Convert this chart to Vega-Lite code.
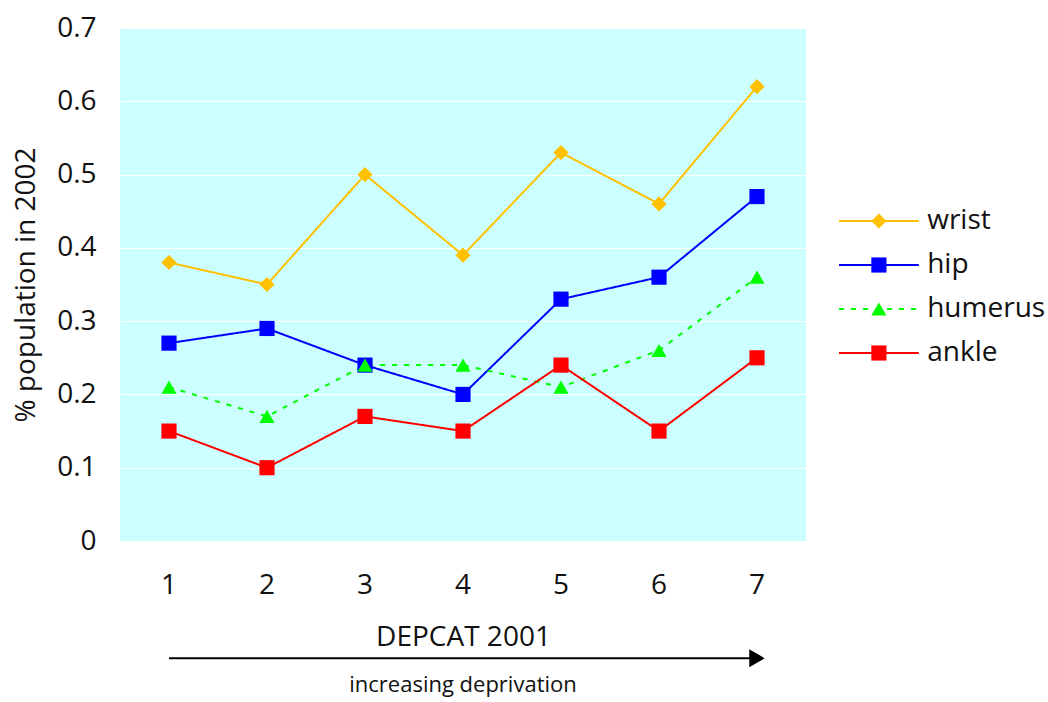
{
  "$schema": "https://vega.github.io/schema/vega-lite/v6.json",
  "background": "white",
  "padding": {"left": 12, "top": 14, "right": 0, "bottom": 2},
  "spacing": 32,
  "config": {
    "font": "Open Sans",
    "view": {"stroke": null},
    "axis": {"labelFont": "Open Sans", "titleFont": "Open Sans", "labelColor": "#111", "titleColor": "#111", "titleFontWeight": "normal"}
  },
  "datasets": {
    "fractures": [
      {"dep": 1, "series": "wrist", "value": 0.38},
      {"dep": 2, "series": "wrist", "value": 0.35},
      {"dep": 3, "series": "wrist", "value": 0.50},
      {"dep": 4, "series": "wrist", "value": 0.39},
      {"dep": 5, "series": "wrist", "value": 0.53},
      {"dep": 6, "series": "wrist", "value": 0.46},
      {"dep": 7, "series": "wrist", "value": 0.62},
      {"dep": 1, "series": "hip", "value": 0.27},
      {"dep": 2, "series": "hip", "value": 0.29},
      {"dep": 3, "series": "hip", "value": 0.24},
      {"dep": 4, "series": "hip", "value": 0.20},
      {"dep": 5, "series": "hip", "value": 0.33},
      {"dep": 6, "series": "hip", "value": 0.36},
      {"dep": 7, "series": "hip", "value": 0.47},
      {"dep": 1, "series": "humerus", "value": 0.21},
      {"dep": 2, "series": "humerus", "value": 0.17},
      {"dep": 3, "series": "humerus", "value": 0.24},
      {"dep": 4, "series": "humerus", "value": 0.24},
      {"dep": 5, "series": "humerus", "value": 0.21},
      {"dep": 6, "series": "humerus", "value": 0.26},
      {"dep": 7, "series": "humerus", "value": 0.36},
      {"dep": 1, "series": "ankle", "value": 0.15},
      {"dep": 2, "series": "ankle", "value": 0.10},
      {"dep": 3, "series": "ankle", "value": 0.17},
      {"dep": 4, "series": "ankle", "value": 0.15},
      {"dep": 5, "series": "ankle", "value": 0.24},
      {"dep": 6, "series": "ankle", "value": 0.15},
      {"dep": 7, "series": "ankle", "value": 0.25}
    ],
    "arrow": [
      {"dep": 1, "dep_end": 7, "level": -0.16, "label": "increasing deprivation", "label_dep": 4, "label_level": -0.196}
    ],
    "legend": [
      {"series": "wrist"},
      {"series": "hip"},
      {"series": "humerus"},
      {"series": "ankle"}
    ]
  },
  "hconcat": [
    {
      "width": 686,
      "height": 513,
      "view": {"fill": "#CCFFFF", "stroke": null},
      "layer": [
        {
          "data": {"name": "fractures"},
          "mark": {"type": "line", "strokeWidth": 2},
          "encoding": {
            "x": {
              "field": "dep", "type": "ordinal",
              "scale": {"paddingInner": 0, "paddingOuter": 0},
              "axis": {"labelAngle": 0, "labelFontSize": 28, "labelPadding": 30, "title": "DEPCAT 2001", "titleFontSize": 28, "titlePadding": 24, "ticks": false, "domain": false, "grid": false}
            },
            "y": {
              "field": "value", "type": "quantitative",
              "scale": {"domain": [0, 0.7], "nice": false},
              "axis": {"values": [0, 0.1, 0.2, 0.3, 0.4, 0.5, 0.6, 0.7], "format": "~g", "labelFontSize": 28, "labelPadding": 24, "title": "% population in 2002", "titleFontSize": 28, "titlePadding": 16, "ticks": false, "domain": false, "gridColor": "white", "gridWidth": 1, "gridOpacity": 1}
            },
            "color": {
              "field": "series", "type": "nominal", "legend": null,
              "scale": {"domain": ["wrist", "hip", "humerus", "ankle"], "range": ["#FFC000", "#0000FF", "#00FF00", "#FF0000"]}
            },
            "strokeDash": {
              "field": "series", "type": "nominal", "legend": null,
              "scale": {"domain": ["wrist", "hip", "humerus", "ankle"], "range": [[1, 0], [1, 0], [5, 7], [1, 0]]}
            }
          }
        },
        {
          "data": {"name": "fractures"},
          "mark": {"type": "point", "filled": true, "opacity": 1, "size": 230},
          "encoding": {
            "x": {"field": "dep", "type": "ordinal"},
            "y": {"field": "value", "type": "quantitative"},
            "color": {"field": "series", "type": "nominal", "legend": null},
            "shape": {
              "field": "series", "type": "nominal", "legend": null,
              "scale": {"domain": ["wrist", "hip", "humerus", "ankle"], "range": ["diamond", "square", "triangle-up", "square"]}
            }
          }
        },
        {
          "data": {"name": "arrow"},
          "mark": {"type": "rule", "color": "black", "strokeWidth": 2},
          "encoding": {
            "x": {"field": "dep", "type": "ordinal"},
            "x2": {"field": "dep_end"},
            "y": {"field": "level", "type": "quantitative"}
          }
        },
        {
          "data": {"name": "arrow"},
          "mark": {"type": "point", "shape": "triangle-right", "filled": true, "color": "black", "opacity": 1, "size": 320},
          "encoding": {
            "x": {"field": "dep_end", "type": "ordinal"},
            "y": {"field": "level", "type": "quantitative"}
          }
        },
        {
          "data": {"name": "arrow"},
          "mark": {"type": "text", "fontSize": 22, "color": "#111", "font": "Open Sans"},
          "encoding": {
            "x": {"field": "label_dep", "type": "ordinal"},
            "y": {"field": "label_level", "type": "quantitative"},
            "text": {"field": "label"}
          }
        }
      ]
    },
    {
      "width": 210,
      "height": 513,
      "data": {"name": "legend"},
      "encoding": {
        "y": {
          "field": "series", "type": "nominal", "axis": null,
          "scale": {"type": "point", "domain": ["wrist", "hip", "humerus", "ankle"], "range": [193, 325], "padding": 0}
        }
      },
      "layer": [
        {
          "mark": {"type": "rule", "strokeWidth": 2},
          "encoding": {
            "x": {"datum": 0, "type": "quantitative", "scale": {"domain": [0, 1]}, "axis": null},
            "x2": {"datum": 0.38},
            "color": {
              "field": "series", "type": "nominal", "legend": null,
              "scale": {"domain": ["wrist", "hip", "humerus", "ankle"], "range": ["#FFC000", "#0000FF", "#00FF00", "#FF0000"]}
            },
            "strokeDash": {
              "field": "series", "type": "nominal", "legend": null,
              "scale": {"domain": ["wrist", "hip", "humerus", "ankle"], "range": [[1, 0], [1, 0], [5, 7], [1, 0]]}
            }
          }
        },
        {
          "mark": {"type": "point", "filled": true, "opacity": 1, "size": 230},
          "encoding": {
            "x": {"datum": 0.19, "type": "quantitative"},
            "color": {"field": "series", "type": "nominal", "legend": null},
            "shape": {
              "field": "series", "type": "nominal", "legend": null,
              "scale": {"domain": ["wrist", "hip", "humerus", "ankle"], "range": ["diamond", "square", "triangle-up", "square"]}
            }
          }
        },
        {
          "mark": {"type": "text", "align": "left", "baseline": "middle", "fontSize": 28, "color": "#111", "font": "Open Sans"},
          "encoding": {
            "x": {"datum": 0.42, "type": "quantitative"},
            "text": {"field": "series"}
          }
        }
      ]
    }
  ]
}
